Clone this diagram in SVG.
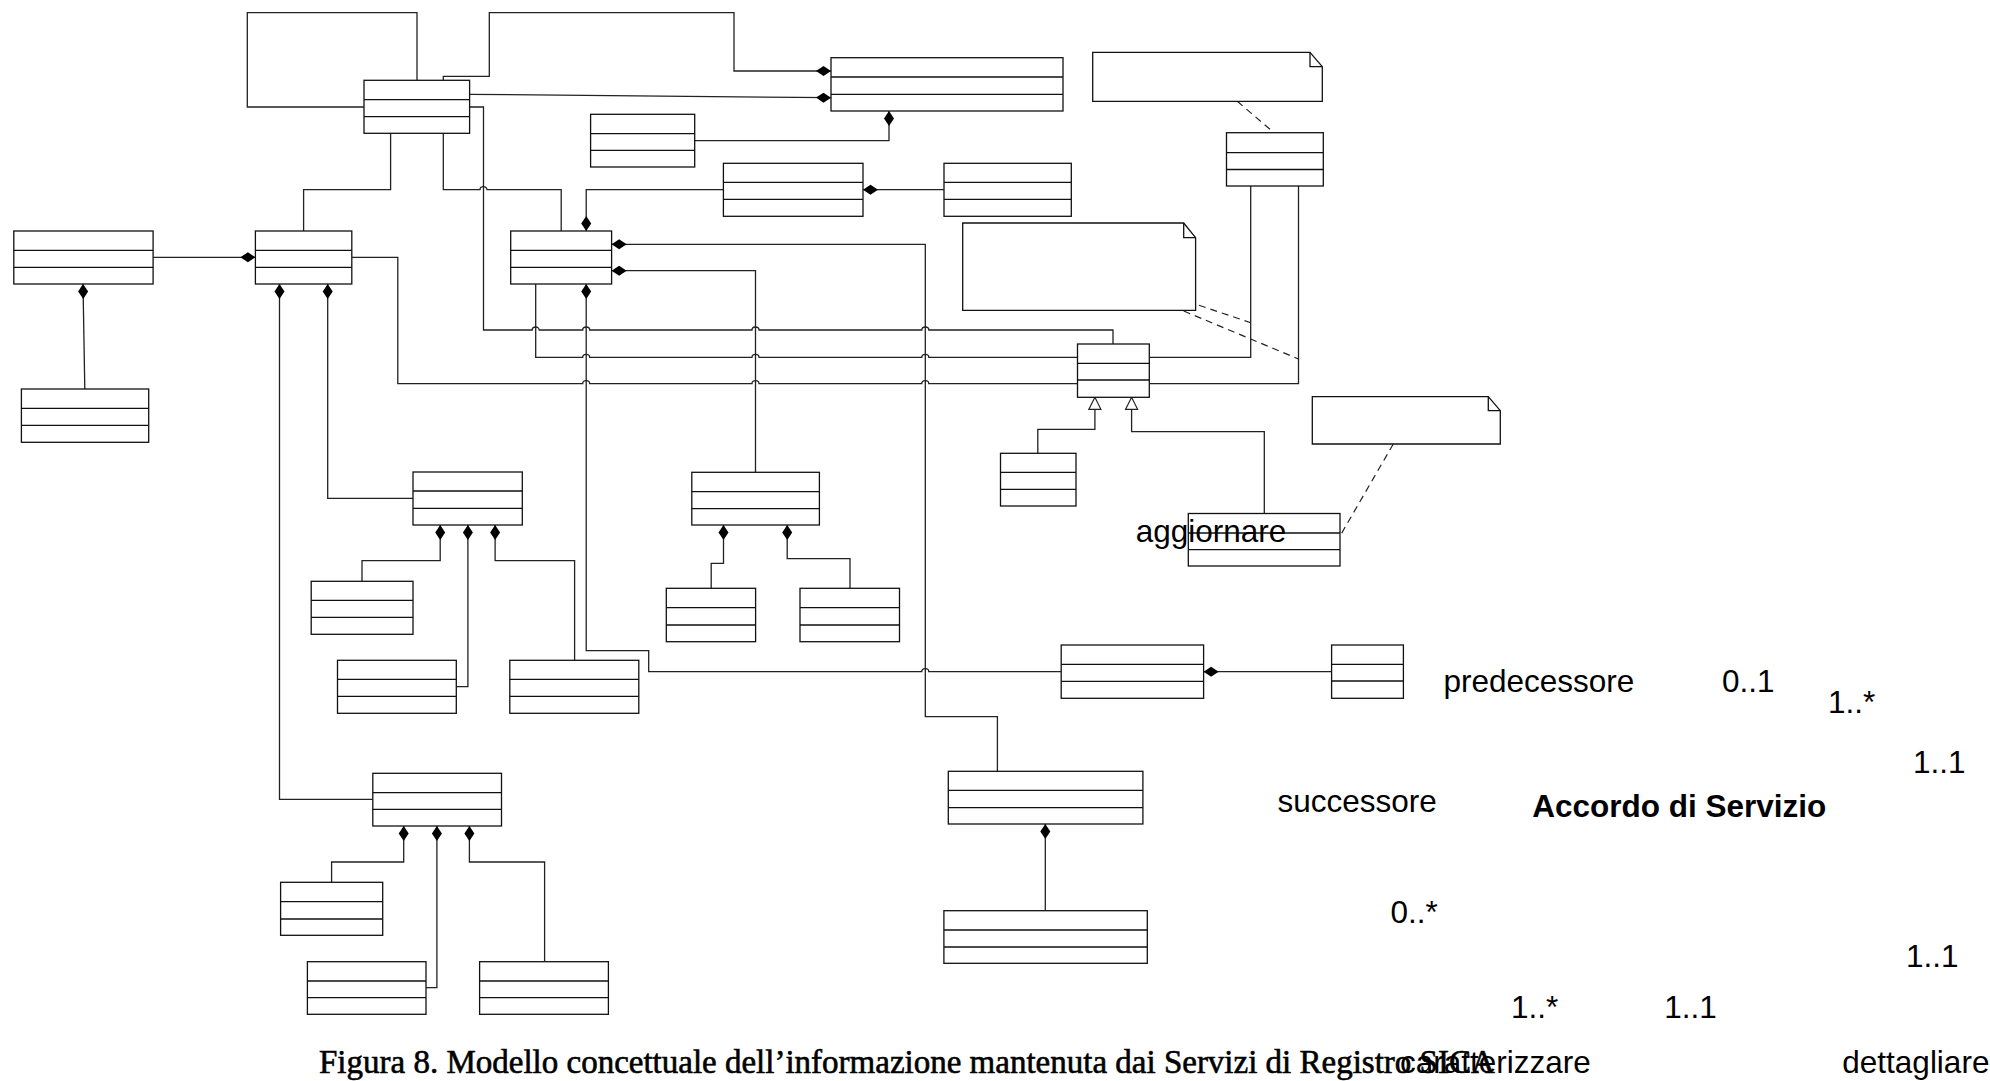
<svg xmlns="http://www.w3.org/2000/svg" width="1990" height="1081" viewBox="0 0 1990 1081">
<style>
.box{fill:#fff;stroke:#111;stroke-width:1.3}
.div{stroke:#111;stroke-width:1.3}
.c{fill:none;stroke:#222;stroke-width:1.3}
.d{fill:none;stroke:#222;stroke-width:1.2;stroke-dasharray:7,5}
.note{fill:#fff;stroke:#111;stroke-width:1.3}
.fold{fill:none;stroke:#111;stroke-width:1.3}
.lbl{font-family:"Liberation Sans",Arial,sans-serif;font-size:31.5px;fill:#000}
.b{font-weight:bold}
.cap{font-family:"Liberation Serif","Times New Roman",serif;font-size:33px;fill:#000;stroke:#000;stroke-width:0.6}
</style>
<defs>
<marker id="dia" markerUnits="userSpaceOnUse" markerWidth="16" markerHeight="11" refX="0" refY="5" orient="auto" overflow="visible">
<path d="M0,5 L7.5,0 L15,5 L7.5,10 Z" fill="#000" stroke="none"/>
</marker>
<marker id="tri" markerUnits="userSpaceOnUse" markerWidth="13" markerHeight="13" refX="12" refY="6" orient="auto" overflow="visible">
<path d="M0,0 L12,6 L0,12 Z" fill="#fff" stroke="#222" stroke-width="1.2"/>
</marker>
</defs>
<rect width="1990" height="1081" fill="#fff"/>

<g id="connectors">
<path class="c" d="M364,107 H247.3 V12.7 H417 V80.3"/>
<path class="c" marker-start="url(#dia)" d="M831,71 H734 V12.7 H489.3 V76.3 H443.3 V80.3"/>
<path class="c" marker-start="url(#dia)" d="M831,97.7 L469.6,94.3"/>
<path class="c" marker-start="url(#dia)" d="M889,111 V140.7 H694.7"/>
<path class="c" d="M390.6,133.3 V189.7 H303.6 V231"/>
<path class="c" d="M443.3,133.3 V189.7 H480 a3.5,3 0 0 1 7,0 H561.2 V231"/>
<path class="c" d="M469.6,107 H483.5 V330 H532.2 a3.5,3 0 0 1 7,0 H582.7 a3.5,3 0 0 1 7,0 H752 a3.5,3 0 0 1 7,0 H921.8 a3.5,3 0 0 1 7,0 H1113 V344"/>
<path class="c" marker-start="url(#dia)" d="M586.2,231 V189.7 H723.4"/>
<path class="c" marker-start="url(#dia)" d="M863,189.7 H944"/>
<path class="c" marker-start="url(#dia)" d="M255.4,257.3 H153.1"/>
<path class="c" marker-start="url(#dia)" d="M83,284 L84.8,389"/>
<path class="c" d="M351.8,257.3 H397.8 V383.7 H582.7 a3.5,3 0 0 1 7,0 H752 a3.5,3 0 0 1 7,0 H921.8 a3.5,3 0 0 1 7,0 H1077.5"/>
<path class="c" marker-start="url(#dia)" d="M279.5,284 V799.3 H372.8"/>
<path class="c" marker-start="url(#dia)" d="M327.7,284 V498.3 H413"/>
<path class="c" d="M535.7,284 V357.3 H582.7 a3.5,3 0 0 1 7,0 H752 a3.5,3 0 0 1 7,0 H921.8 a3.5,3 0 0 1 7,0 H1077.5"/>
<path class="c" marker-start="url(#dia)" d="M586.2,284 V650.7 H648.7 V671.7 H921.8 a3.5,3 0 0 1 7,0 H1061.2"/>
<path class="c" marker-start="url(#dia)" d="M611.6,244.3 H925.3 V716.7 H997.4 V771.3"/>
<path class="c" marker-start="url(#dia)" d="M611.6,270.7 H755.5 V472.3"/>
<path class="c" d="M1149.3,357.3 H1250.7 V186"/>
<path class="c" d="M1149.3,383.7 H1298.5 V186"/>
<path class="c" marker-end="url(#tri)" d="M1037.8,453.3 V429.3 H1094.9 V397.3"/>
<path class="c" marker-end="url(#tri)" d="M1264.3,513.5 V431.7 H1131.6 V397.3"/>
<path class="c" marker-start="url(#dia)" d="M723.5,525 V563.3 H711.2 V588.3"/>
<path class="c" marker-start="url(#dia)" d="M787.2,525 V558.7 H850 V588.3"/>
<path class="c" marker-start="url(#dia)" d="M440.2,525 V560.7 H362 V581.3"/>
<path class="c" marker-start="url(#dia)" d="M467.9,525 V686.7 H456.3"/>
<path class="c" marker-start="url(#dia)" d="M495.1,525 V560.7 H574.6 V660.3"/>
<path class="c" marker-start="url(#dia)" d="M403.7,826 V862 H331.6 V882.3"/>
<path class="c" marker-start="url(#dia)" d="M436.9,826 V987.7 H426"/>
<path class="c" marker-start="url(#dia)" d="M469.4,826 V862 H544.6 V961.7"/>
<path class="c" marker-start="url(#dia)" d="M1045.3,824 V910.7"/>
<path class="c" marker-start="url(#dia)" d="M1203.6,671.7 H1331.6"/>
<path class="d" d="M1237.3,101.3 L1274,132.7"/>
<path class="d" d="M1199,305.3 L1250.7,322.7"/>
<path class="d" d="M1183.7,311 L1298.5,359"/>
<path class="d" d="M1393.3,444 L1340,536"/>
</g>

<g id="A"><rect class="box" x="364" y="80.3" width="105.6" height="53"/><path class="div" d="M364,99.7 H469.6 M364,116.7 H469.6"/></g>
<g id="B"><rect class="box" x="831" y="57.7" width="232" height="53.3"/><path class="div" d="M831,77 H1063 M831,94.3 H1063"/></g>
<g id="C"><rect class="box" x="590.6" y="114.3" width="104.1" height="52.7"/><path class="div" d="M590.6,133.7 H694.7 M590.6,150.3 H694.7"/></g>
<g id="F"><rect class="box" x="723.4" y="163.3" width="139.6" height="53"/><path class="div" d="M723.4,182.3 H863 M723.4,199.3 H863"/></g>
<g id="H"><rect class="box" x="944" y="163.3" width="127.3" height="53"/><path class="div" d="M944,182.3 H1071.3 M944,199.3 H1071.3"/></g>
<g id="K"><rect class="box" x="1226.5" y="132.7" width="96.8" height="53.3"/><path class="div" d="M1226.5,152.7 H1323.3 M1226.5,169.5 H1323.3"/></g>
<g id="I"><rect class="box" x="13.8" y="231" width="139.3" height="53"/><path class="div" d="M13.8,250.3 H153.1 M13.8,267.3 H153.1"/></g>
<g id="D"><rect class="box" x="255.4" y="231" width="96.4" height="53"/><path class="div" d="M255.4,250.3 H351.8 M255.4,267.3 H351.8"/></g>
<g id="E"><rect class="box" x="510.7" y="231" width="100.9" height="53"/><path class="div" d="M510.7,250.3 H611.6 M510.7,267.3 H611.6"/></g>
<g id="J"><rect class="box" x="21.4" y="389" width="127.3" height="53.3"/><path class="div" d="M21.4,408.3 H148.7 M21.4,425.3 H148.7"/></g>
<g id="G"><rect class="box" x="1077.5" y="344" width="71.8" height="53.3"/><path class="div" d="M1077.5,363.3 H1149.3 M1077.5,380 H1149.3"/></g>
<g id="L"><rect class="box" x="1000.5" y="453.3" width="75.5" height="52.7"/><path class="div" d="M1000.5,472.3 H1076 M1000.5,489.3 H1076"/></g>
<g id="M"><rect class="box" x="1188.3" y="513.5" width="151.7" height="52.5"/><path class="div" d="M1188.3,533 H1340 M1188.3,549.7 H1340"/></g>
<g id="V"><rect class="box" x="413" y="472" width="109.3" height="53"/><path class="div" d="M413,491 H522.3 M413,508.3 H522.3"/></g>
<g id="N"><rect class="box" x="691.8" y="472.3" width="127.6" height="52.7"/><path class="div" d="M691.8,491.7 H819.4 M691.8,508.7 H819.4"/></g>
<g id="W"><rect class="box" x="311.2" y="581.3" width="101.8" height="53"/><path class="div" d="M311.2,600.3 H413 M311.2,617.3 H413"/></g>
<g id="O"><rect class="box" x="666.3" y="588.3" width="89.3" height="53.4"/><path class="div" d="M666.3,607.7 H755.6 M666.3,625 H755.6"/></g>
<g id="P"><rect class="box" x="800" y="588.3" width="99.5" height="53.4"/><path class="div" d="M800,607.7 H899.5 M800,625 H899.5"/></g>
<g id="X"><rect class="box" x="337.5" y="660.3" width="118.8" height="53"/><path class="div" d="M337.5,679.3 H456.3 M337.5,696.3 H456.3"/></g>
<g id="Y"><rect class="box" x="509.8" y="660.3" width="129" height="53"/><path class="div" d="M509.8,679.3 H638.8 M509.8,696.3 H638.8"/></g>
<g id="Q"><rect class="box" x="1061.2" y="645" width="142.4" height="53.3"/><path class="div" d="M1061.2,664.3 H1203.6 M1061.2,681.3 H1203.6"/></g>
<g id="R"><rect class="box" x="1331.6" y="645" width="71.8" height="53.3"/><path class="div" d="M1331.6,664.3 H1403.4 M1331.6,681 H1403.4"/></g>
<g id="Z"><rect class="box" x="372.8" y="773.3" width="128.7" height="52.7"/><path class="div" d="M372.8,792.7 H501.5 M372.8,809.3 H501.5"/></g>
<g id="T"><rect class="box" x="948.3" y="771.3" width="194.6" height="52.7"/><path class="div" d="M948.3,790.3 H1142.9 M948.3,807.7 H1142.9"/></g>
<g id="AA"><rect class="box" x="280.6" y="882.3" width="102.1" height="53"/><path class="div" d="M280.6,901.7 H382.7 M280.6,919 H382.7"/></g>
<g id="AB"><rect class="box" x="307.4" y="961.7" width="118.6" height="52.6"/><path class="div" d="M307.4,981 H426 M307.4,997.7 H426"/></g>
<g id="AC"><rect class="box" x="479.6" y="961.7" width="128.8" height="52.6"/><path class="div" d="M479.6,981 H608.4 M479.6,997.7 H608.4"/></g>
<g id="U"><rect class="box" x="943.9" y="910.7" width="203.4" height="52.6"/><path class="div" d="M943.9,930 H1147.3 M943.9,947 H1147.3"/></g>

<g id="note1"><path class="note" d="M1092.7,52.3 H1310 L1322.3,66.7 V101.3 H1092.7 Z"/><path class="fold" d="M1310,52.3 V66.7 H1322.3"/></g>
<g id="note2"><path class="note" d="M962.7,223 H1183.7 L1195.6,237.7 V310.3 H962.7 Z"/><path class="fold" d="M1183.7,223 V237.7 H1195.6"/></g>
<g id="note3"><path class="note" d="M1312.3,396.7 H1488.3 L1500.3,410.7 V444 H1312.3 Z"/><path class="fold" d="M1488.3,396.7 V410.7 H1500.3"/></g>

<g id="labels">
<text class="cap" x="319" y="1073">Figura 8. Modello concettuale dell’informazione mantenuta dai Servizi di Registro SICA</text>
<text class="lbl" x="1135.7" y="541.7">aggiornare</text>
<text class="lbl" x="1443.5" y="691.7">predecessore</text>
<text class="lbl" x="1722" y="691.7">0..1</text>
<text class="lbl" x="1828" y="713.3">1..*</text>
<text class="lbl" x="1913" y="772.7">1..1</text>
<text class="lbl" x="1277.4" y="811.7">successore</text>
<text class="lbl b" x="1532.2" y="816.7">Accordo di Servizio</text>
<text class="lbl" x="1390.6" y="923.3">0..*</text>
<text class="lbl" x="1906" y="966.7">1..1</text>
<text class="lbl" x="1511" y="1018.3">1..*</text>
<text class="lbl" x="1664.3" y="1018.3">1..1</text>
<text class="lbl" x="1400" y="1073.3">caratterizzare</text>
<text class="lbl" x="1842.3" y="1073.3">dettagliare</text>
</g>
</svg>
